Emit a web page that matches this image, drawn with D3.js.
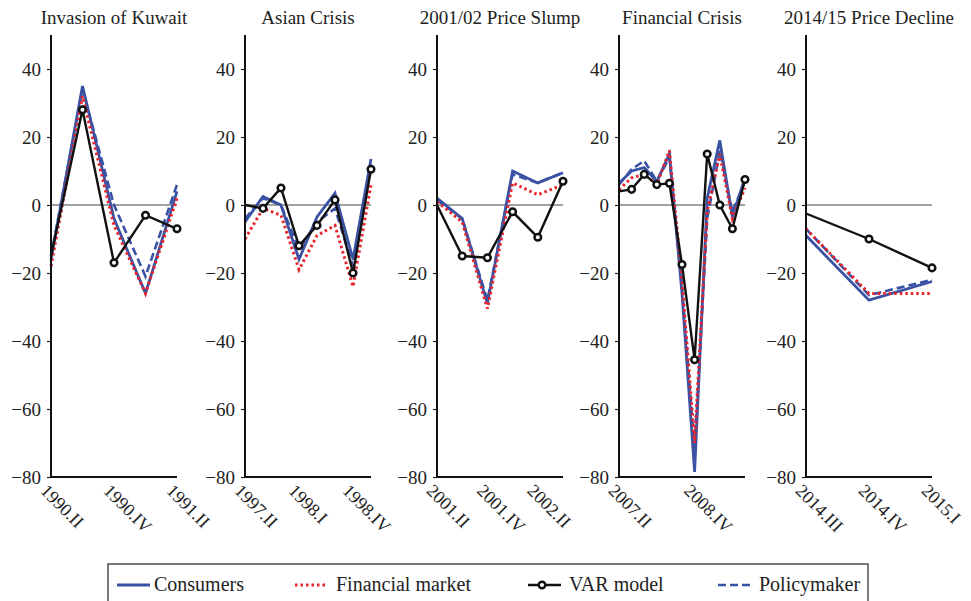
<!DOCTYPE html>
<html>
<head>
<meta charset="utf-8">
<script src="https://cdn.jsdelivr.net/npm/d3@7"></script>
<style>
  body { margin: 0; background: #fff; }
  svg { display: block; }
</style>
</head>
<body>
<svg id="chart" width="971" height="601"></svg>
<script>
// titres des panneaux
const panelTitles = ["Invasion of Kuwait", "Asian Crisis", "2001/02 Price Slump", "Financial Crisis", "2014/15 Price Decline"]

// trimestres de chaque panneau
const quarters = [
    ["1990.II", "1990.III", "1990.IV", "1991.I", "1991.II"],
    ["1997.II", "1997.III", "1997.IV", "1998.I", "1998.II", "1998.III", "1998.IV", "1999.I"],
    ["2001.II", "2001.III", "2001.IV", "2002.I", "2002.II", "2002.III"],
    ["2007.II", "2007.III", "2007.IV", "2008.I", "2008.II", "2008.III", "2008.IV", "2009.I", "2009.II", "2009.III", "2009.IV"],
    ["2014.III", "2014.IV", "2015.I"]
]

// labels affichés sur l'axe x
const tickLabels = [
    ["1990.II", "1990.IV", "1991.II"],
    ["1997.II", "1998.I", "1998.IV"],
    ["2001.II", "2001.IV", "2002.II"],
    ["2007.II", "2008.IV"],
    ["2014.III", "2014.IV", "2015.I"]
]

const yTicks = [-80, -60, -40, -20, 0, 20, 40]

// series
const consumers = [
    [-16, 35, -4, -26, 4],
    [-5, 2.5, 0, -16, -3.5, 3.5, -16, 13.5],
    [2, -4, -29, 10, 6.5, 9.5],
    [6.4, 10, 11, 6.9, 15, -26, -78.5, 2, 19, -3.5, 8],
    [-9, -28, -22.5]
]
const financialMarket = [
    [-18, 32, -6, -26, 2],
    [-10, -1, -3, -19, -9, -6, -24, 6],
    [1, -5, -30.5, 6.5, 3, 6],
    [4.5, 8, 9, 6, 16, -22, -70, -2, 15, -4, 5],
    [-7, -26, -26]
]
const varModel = [
    [-15, 28, -17, -3, -7],
    [0, -1, 5, -12, -6, 1.5, -20, 10.5],
    [0, -15, -15.5, -2, -9.5, 7],
    [4, 4.6, 9, 6, 6.4, -17.5, -45.5, 15, 0, -7, 7.5],
    [-2.5, -10, -18.5]
]
const policymaker = [
    [-15, 34, 0, -21, 6],
    [-4, 2, 0, -13, -5, -1, -18, 12],
    [1.5, -4, -28, 9, 6.5, 9.5],
    [6, 10.5, 13, 7, 14, -24, -72, -4, 16, -2, 7],
    [-7, -26.5, -22]
]

const legendNames = ["Consumers", "Financial market", "VAR model", "Policymaker"]

const blue = "#3a52a3"
const red = "#e8232b"
const serif = "Liberation Serif"

const svg = d3.select("#chart")
const panelLeft = [51, 245, 437, 619, 806]
const panelWidth = 126
const plotTop = 35, plotBottom = 477

const y = d3.scaleLinear().domain([-80, 50]).range([plotBottom, plotTop])

const styles = [
    {data: consumers, color: blue, width: 2.8, dash: null},
    {data: policymaker, color: blue, width: 2.6, dash: "8,4"},
    {data: financialMarket, color: red, width: 3, dash: "2.5,3"},
    {data: varModel, color: "#111", width: 2.4, dash: null}
]

for (let p = 0; p < panelTitles.length; p++) {
    const g = svg.append("g").attr("transform", `translate(${panelLeft[p]}, 0)`)
    const x = d3.scalePoint().domain(quarters[p]).range([0, panelWidth])

    // titre
    g.append("text")
     .attr("x", panelWidth / 2)
     .attr("y", 24)
     .attr("text-anchor", "middle")
     .attr("font-family", serif)
     .attr("font-size", 19)
     .attr("fill", "#222")
     .text(panelTitles[p])

    // axe y
    const yAxis = g.append("g")
                   .call(d3.axisLeft(y).tickValues(yTicks).tickSize(4).tickPadding(6))
    yAxis.select(".domain").remove()
    yAxis.selectAll("line").attr("stroke", "#222").attr("stroke-width", 1.2)
    yAxis.selectAll("text")
         .attr("font-family", serif)
         .attr("font-size", 19)
         .attr("fill", "#222")

    // ligne zéro
    g.append("line")
     .attr("x1", 0).attr("x2", panelWidth)
     .attr("y1", y(0)).attr("y2", y(0))
     .attr("stroke", "#444").attr("stroke-width", 1.2)

    // séries
    const line = d3.line().x((d, i) => x(quarters[p][i])).y(d => y(d))
    styles.forEach(s => {
        g.append("path")
         .datum(s.data[p])
         .attr("d", line)
         .attr("fill", "none")
         .attr("stroke", s.color)
         .attr("stroke-width", s.width)
         .attr("stroke-dasharray", s.dash)
         .attr("stroke-linejoin", "miter")
    })

    // marqueurs VAR (pas sur le premier point)
    g.selectAll("circle")
     .data(varModel[p].slice(1))
     .join("circle")
     .attr("cx", (d, i) => x(quarters[p][i + 1]))
     .attr("cy", d => y(d))
     .attr("r", 3.3)
     .attr("fill", "#fff")
     .attr("stroke", "#111")
     .attr("stroke-width", 2.5)

    // axes (cadre en L)
    g.append("path")
     .attr("d", `M0,${plotTop}V${plotBottom}H${panelWidth}`)
     .attr("fill", "none")
     .attr("stroke", "#111")
     .attr("stroke-width", 2)

    // labels x
    const xAxis = g.append("g")
                   .attr("transform", `translate(0, ${plotBottom})`)
                   .call(d3.axisBottom(x).tickValues(tickLabels[p]).tickSize(0))
    xAxis.select(".domain").remove()
    xAxis.selectAll("text")
         .attr("font-family", serif)
         .attr("font-size", 18)
         .attr("fill", "#222")
         .attr("text-anchor", "start")
         .attr("transform", "rotate(45)")
         .attr("x", 2)
         .attr("y", 19)
         .attr("dy", 0)
}

// légende
const legend = svg.append("g")
legend.append("rect")
      .attr("x", 108).attr("y", 564)
      .attr("width", 760).attr("height", 45)
      .attr("fill", "none")
      .attr("stroke", "#222")
      .attr("stroke-width", 1.2)

const legendX = [117, 295, 528, 718]
const legendStyle = [styles[0], styles[2], styles[3], styles[1]]
for (let i = 0; i < legendNames.length; i++) {
    const s = legendStyle[i]
    const ly = 585
    legend.append("line")
          .attr("x1", legendX[i]).attr("x2", legendX[i] + 33)
          .attr("y1", ly).attr("y2", ly)
          .attr("stroke", s.color)
          .attr("stroke-width", s.width)
          .attr("stroke-dasharray", s.dash)
    if (legendNames[i] === "VAR model") {
        legend.append("circle")
              .attr("cx", legendX[i] + 14).attr("cy", ly)
              .attr("r", 3.3)
              .attr("fill", "#fff")
              .attr("stroke", "#111")
              .attr("stroke-width", 2.5)
    }
    legend.append("text")
          .attr("x", legendX[i] + (i === 0 ? 37 : 41))
          .attr("y", ly + 6)
          .attr("font-family", serif)
          .attr("font-size", 20)
          .attr("fill", "#222")
          .text(legendNames[i])
}
</script>
</body>
</html>
